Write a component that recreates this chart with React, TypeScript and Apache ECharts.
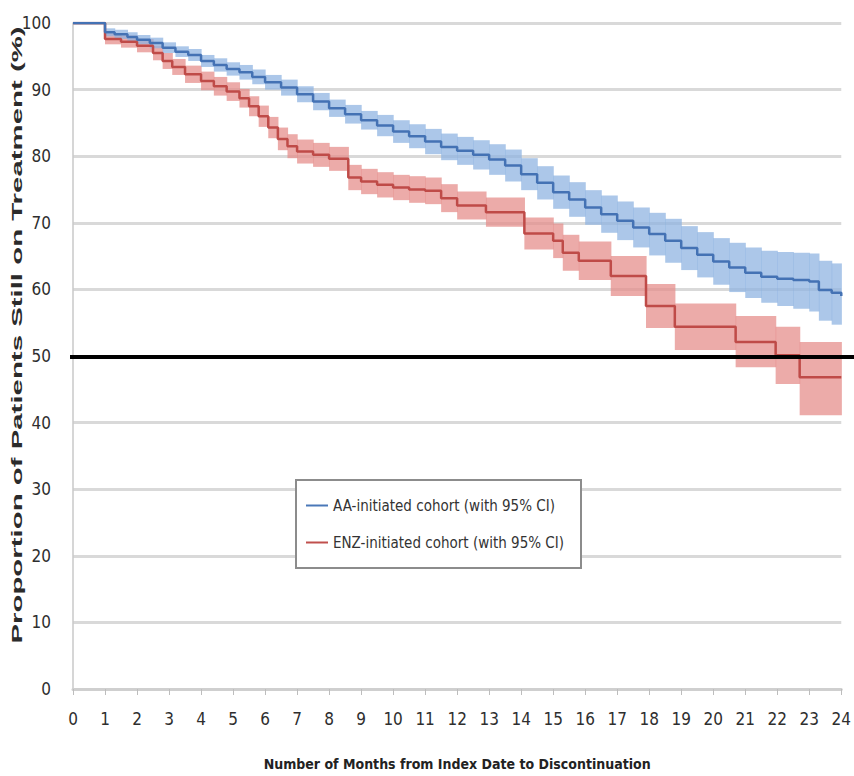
import React, { useEffect, useRef } from "react";
import * as echarts from "echarts";

// AA-initiated cohort (Kaplan–Meier estimate, %)
const aaMonths = [0, 1, 1.3, 1.7, 2, 2.4, 2.8, 3.2, 3.6, 4, 4.4, 4.8, 5.2, 5.6, 6, 6.5, 7, 7.5, 8, 8.5, 9, 9.5, 10, 10.5, 11, 11.5, 12, 12.5, 13, 13.5, 14, 14.5, 15, 15.5, 16, 16.5, 17, 17.5, 18, 18.5, 19, 19.5, 20, 20.5, 21, 21.5, 22, 22.5, 23, 23.3, 23.7, 24];
const aaMedian = [100, 98.6, 98.3, 97.9, 97.5, 97.0, 96.3, 95.7, 95.2, 94.3, 93.7, 93.1, 92.6, 91.9, 91.1, 90.3, 89.3, 88.2, 87.2, 86.3, 85.4, 84.6, 83.7, 83.0, 82.2, 81.4, 80.8, 80.2, 79.5, 78.6, 77.3, 76.0, 74.6, 73.5, 72.3, 71.3, 70.3, 69.3, 68.3, 67.3, 66.2, 65.2, 64.2, 63.3, 62.5, 61.9, 61.6, 61.4, 61.2, 59.9, 59.5, 59.0];
const aaLower = [100, 98.0, 97.6, 97.2, 96.8, 96.2, 95.5, 94.9, 94.3, 93.4, 92.7, 92.1, 91.5, 90.8, 90.0, 89.1, 88.1, 86.9, 85.9, 84.9, 84.0, 83.0, 82.0, 81.2, 80.3, 79.4, 78.7, 78.0, 77.2, 76.2, 74.9, 73.5, 72.1, 70.9, 69.7, 68.5, 67.4, 66.3, 65.1, 64.0, 62.9, 61.8, 60.7, 59.6, 58.7, 58.0, 57.5, 57.1, 56.7, 55.3, 54.7, 54.1];
const aaUpper = [100, 99.2, 99.0, 98.6, 98.2, 97.8, 97.1, 96.5, 96.1, 95.2, 94.7, 94.1, 93.7, 93.0, 92.2, 91.5, 90.5, 89.5, 88.5, 87.7, 86.8, 86.2, 85.4, 84.8, 84.1, 83.4, 82.9, 82.4, 81.8, 81.0, 79.7, 78.5, 77.1, 76.1, 74.9, 74.1, 73.2, 72.3, 71.5, 70.6, 69.5, 68.6, 67.7, 67.0, 66.3, 65.8, 65.6, 65.5, 65.4, 64.3, 63.9, 63.5];

// ENZ-initiated cohort (Kaplan–Meier estimate, %)
const enzMonths = [0, 1, 1.5, 2, 2.5, 2.8, 3.1, 3.5, 4, 4.4, 4.8, 5.2, 5.5, 5.8, 6.1, 6.4, 6.7, 7, 7.5, 8, 8.6, 9, 9.5, 10, 10.5, 11, 11.5, 12, 12.9, 14.1, 15, 15.3, 15.8, 16.8, 17.9, 18.8, 20.7, 21.95, 22.7, 24];
const enzMedian = [100, 97.6, 97.2, 96.6, 95.5, 94.3, 93.4, 92.3, 91.3, 90.5, 89.7, 88.7, 87.5, 86.0, 84.3, 82.6, 81.5, 80.7, 80.2, 79.6, 76.8, 76.2, 75.7, 75.3, 75.0, 74.8, 73.7, 72.6, 71.6, 68.4, 67.3, 65.5, 64.3, 62.0, 57.5, 54.4, 52.1, 50.1, 46.8, 46.8];
const enzLower = [100, 96.8, 96.3, 95.6, 94.4, 93.1, 92.2, 91.0, 89.9, 89.1, 88.3, 87.3, 86.0, 84.4, 82.7, 80.9, 79.7, 78.9, 78.4, 77.8, 74.9, 74.3, 73.8, 73.4, 73.0, 72.8, 71.6, 70.5, 69.4, 66.0, 64.7, 62.8, 61.4, 59.0, 54.2, 50.9, 48.3, 45.8, 41.1, 41.1];
const enzUpper = [100, 98.4, 98.1, 97.6, 96.6, 95.5, 94.6, 93.6, 92.7, 91.9, 91.1, 90.1, 89.0, 87.6, 85.9, 84.3, 83.3, 82.5, 82.0, 81.4, 78.7, 78.1, 77.6, 77.2, 77.0, 76.8, 75.8, 74.7, 73.8, 70.8, 69.9, 68.2, 67.2, 65.0, 60.8, 57.9, 56.0, 54.4, 52.1, 52.1];

const xTicks = { min: 0, max: 24, interval: 1 };
const yTicks = { min: 0, max: 100, interval: 10 };
const thresholdValue = 50;

const AA_NAME = "AA-initiated cohort (with 95% CI)";
const ENZ_NAME = "ENZ-initiated cohort (with 95% CI)";
const Y_TITLE = "Proportion of Patients Still on Treatment (%)";
const X_TITLE = "Number of Months from Index Date to Discontinuation";

const FONT = "'Liberation Sans Narrow', 'DejaVu Sans Condensed', 'Liberation Sans', Arial, sans-serif";

const pairs = (xs: number[], ys: number[]) => xs.map((x, i) => [x, ys[i]]);
// step segments of the confidence band: [start month, end month, lower, upper]
const segments = (xs: number[], lo: number[], hi: number[]) =>
  xs.slice(0, -1).map((x, i) => [x, xs[i + 1], lo[i], hi[i]]);

const bandRenderer = (fill: string) => (params: any, api: any) => {
  const p1 = api.coord([api.value(0), api.value(3)]);
  const p2 = api.coord([api.value(1), api.value(2)]);
  return {
    type: "rect",
    shape: { x: p1[0], y: p1[1], width: p2[0] - p1[0] + 0.6, height: p2[1] - p1[1] },
    style: { fill },
  };
};

export default function App() {
  const ref = useRef<HTMLDivElement>(null);
  useEffect(() => {
    document.body.style.margin = "0";
    if (!ref.current) return;
    const chart = echarts.init(ref.current, null, { renderer: "svg" });
    const option: any = {
      animation: false,
      backgroundColor: "#ffffff",
      grid: { left: 73, right: 11, top: 23, bottom: 84 },
      legend: {
        data: [AA_NAME, ENZ_NAME],
        orient: "vertical",
        left: 296,
        top: 480,
        icon: "rect",
        itemWidth: 22,
        itemHeight: 2,
        itemGap: 22,
        padding: [18, 17, 18, 10],
        backgroundColor: "#ffffff",
        borderColor: "#8c8c8c",
        borderWidth: 2,
        textStyle: { fontFamily: FONT, fontSize: 15, color: "#333333" },
      },
      xAxis: {
        type: "value",
        ...xTicks,
        name: X_TITLE,
        nameLocation: "middle",
        nameGap: 68,
        nameTextStyle: { fontFamily: FONT, fontSize: 14, fontWeight: "bold", color: "#222222" },
        axisLine: { show: true, lineStyle: { color: "#cfcfcf", width: 3 } },
        axisTick: { show: true, length: 6, lineStyle: { color: "#bdbdbd", width: 1 } },
        axisLabel: { fontFamily: FONT, fontSize: 17, color: "#2e2e2e", margin: 21 },
        splitLine: { show: false },
      },
      yAxis: {
        type: "value",
        ...yTicks,
        axisLine: { show: true, lineStyle: { color: "#c8c8c8", width: 1.5 } },
        axisTick: { show: false },
        axisLabel: { fontFamily: FONT, fontSize: 17, color: "#2e2e2e", margin: 22 },
        splitLine: { show: true, lineStyle: { color: "#d9d9d9", width: 3 } },
      },
      series: [
        {
          name: "ENZ 95% CI", type: "custom", silent: true, z: 1,
          encode: { x: [0, 1], y: [2, 3] },
          data: segments(enzMonths, enzLower, enzUpper),
          renderItem: bandRenderer("rgba(228,138,136,0.72)"),
        },
        {
          name: "AA 95% CI", type: "custom", silent: true, z: 2,
          encode: { x: [0, 1], y: [2, 3] },
          data: segments(aaMonths, aaLower, aaUpper),
          renderItem: bandRenderer("rgba(140,178,224,0.72)"),
        },
        {
          name: ENZ_NAME, type: "line", step: "end", symbol: "none", z: 3,
          data: pairs(enzMonths, enzMedian),
          color: "#c0504d",
          lineStyle: { color: "#bf4b48", width: 2.5 },
        },
        {
          name: AA_NAME, type: "line", step: "end", symbol: "none", z: 4,
          data: pairs(aaMonths, aaMedian),
          color: "#4a78b8",
          lineStyle: { color: "#4472b4", width: 2.5 },
        },
      ],
    };
    chart.setOption(option);
    const yPix = chart.convertToPixel({ yAxisIndex: 0 }, thresholdValue) as number;
    const xPix = chart.convertToPixel({ xAxisIndex: 0 }, xTicks.min) as number;
    chart.setOption({
      graphic: [
        {
          type: "line",
          z: 100,
          shape: { x1: xPix - 3, y1: yPix + 1, x2: chart.getWidth(), y2: yPix + 1 },
          style: { stroke: "#000000", lineWidth: 4 },
        },
        {
          type: "text",
          x: 17,
          y: 335,
          rotation: Math.PI / 2,
          scaleX: 2.1,
          style: {
            text: Y_TITLE,
            font: "bold 14px 'Liberation Sans', Arial, sans-serif",
            fill: "#2b2b2b",
            align: "center",
            verticalAlign: "middle",
          },
        },
      ],
    });
    return () => chart.dispose();
  }, []);
  return <div ref={ref} style={{ width: 854, height: 776 }} />;
}
